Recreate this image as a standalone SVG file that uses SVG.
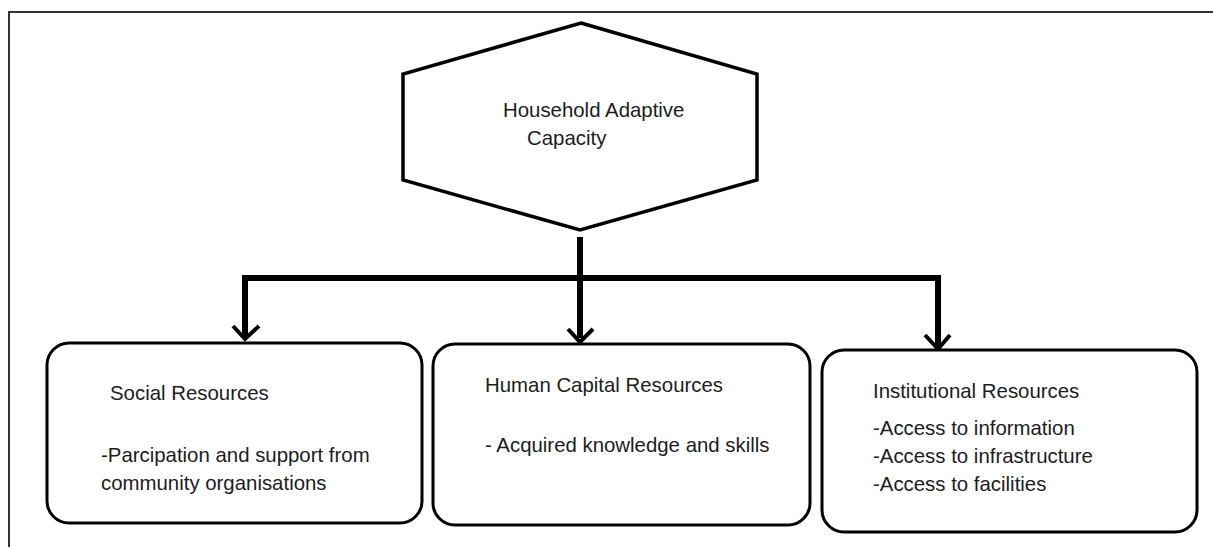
<svg xmlns="http://www.w3.org/2000/svg" width="1213" height="547" viewBox="0 0 1213 547">
  <style>
    .frame { fill: none; stroke: #333; stroke-width: 2; }
    .shape { fill: #fff; stroke: #000; stroke-width: 3.5; stroke-linejoin: miter; }
    .box { fill: #fff; stroke: #000; stroke-width: 3; }
    .link { fill: none; stroke: #000; stroke-width: 6; }
    .head { fill: none; stroke: #000; stroke-width: 4; stroke-linecap: butt; }
    text { font-family: "Liberation Sans", Arial, sans-serif; font-size: 20.4px; fill: #1c1c22; }
  </style>
  <rect width="1213" height="547" fill="#fff"/>

  <!-- page frame (open on the right and bottom) -->
  <path class="frame" d="M9,547 V12 H1213"/>

  <g id="connectors">
    <path class="link" d="M580,237 V338"/>
    <path class="link" d="M245,338 V278 H938 V347"/>
    <path class="head" d="M233,326 L245,339 L259,326"/>
    <path class="head" d="M568,329 L580,342 L593,329"/>
    <path class="head" d="M925,335 L938,349 L950,335"/>
  </g>

  <g id="household-adaptive-capacity">
    <polygon class="shape" points="581,23 757,74 757,180 580,230 403,180 403,74"/>
    <text x="503" y="117">Household Adaptive</text>
    <text x="527" y="145">Capacity</text>
  </g>

  <g id="social-resources">
    <rect class="box" x="47" y="343" width="375" height="180" rx="22"/>
    <text x="110" y="400">Social Resources</text>
    <text x="101" y="462">-Parcipation and support from</text>
    <text x="101" y="490">community organisations</text>
  </g>

  <g id="human-capital-resources">
    <rect class="box" x="433" y="344" width="377" height="181" rx="22"/>
    <text x="485" y="392">Human Capital Resources</text>
    <text x="485" y="452">- Acquired knowledge and skills</text>
  </g>

  <g id="institutional-resources">
    <rect class="box" x="822" y="350" width="375" height="182" rx="22"/>
    <text x="873" y="398">Institutional Resources</text>
    <text x="873" y="435">-Access to information</text>
    <text x="873" y="463">-Access to infrastructure</text>
    <text x="873" y="491">-Access to facilities</text>
  </g>
</svg>
